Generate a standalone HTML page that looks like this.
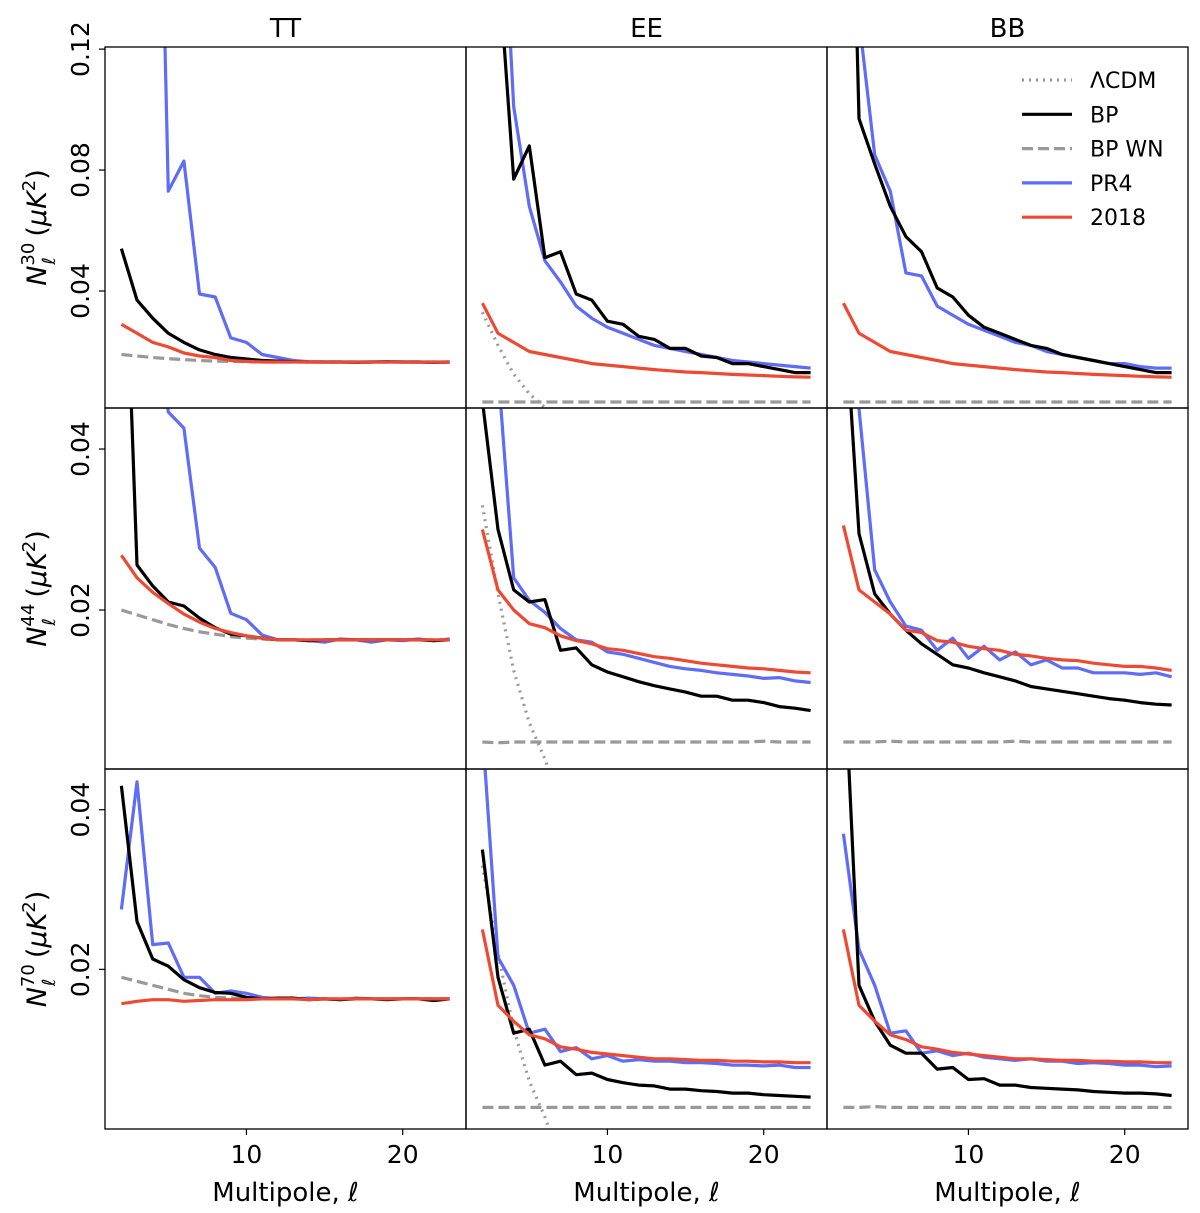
<!DOCTYPE html>
<html><head><meta charset="utf-8"><style>
html,body{margin:0;padding:0;background:#fff;}
svg{display:block;font-family:"DejaVu Sans","Liberation Sans",sans-serif;}
</style></head><body>
<svg id="chart" width="1200" height="1213" viewBox="0 0 1200 1213" xmlns="http://www.w3.org/2000/svg"></svg>
<script>
const ells = [2,3,4,5,6,7,8,9,10,11,12,13,14,15,16,17,18,19,20,21,22,23];
const spectra = ["TT","EE","BB"];
const freqs = ["30","44","70"];
const yTicksRow = [[0.04,0.08,0.12],[0.02,0.04],[0.02,0.04]];
const yTickLabelsRow = [["0.04","0.08","0.12"],["0.02","0.04"],["0.02","0.04"]];
const xTicks = [10,20];
const xTickLabels = ["10","20"];
const legendLabels = ["ΛCDM","BP","BP WN","PR4","2018"];

const lcdm_TT = [900,800,700,650,600,580,560,540,520,500,480,460,440,420,400,380,360,340,320,300,280,260];
const lcdm_EE = [0.033,0.022,0.0125,0.006,0.0015,-0.004,-0.01,-0.01,-0.01,-0.01,-0.01,-0.01,-0.01,-0.01,-0.01,-0.01,-0.01,-0.01,-0.01,-0.01,-0.01,-0.01];
const lcdm_BB = [-0.01,-0.01,-0.01,-0.01,-0.01,-0.01,-0.01,-0.01,-0.01,-0.01,-0.01,-0.01,-0.01,-0.01,-0.01,-0.01,-0.01,-0.01,-0.01,-0.01,-0.01,-0.01];

const bp30_TT = [0.054,0.037,0.031,0.026,0.023,0.0205,0.019,0.018,0.0175,0.017,0.0168,0.0166,0.0165,0.0165,0.0165,0.0164,0.0165,0.0166,0.0165,0.0165,0.0164,0.0165];
const wn30_TT = [0.019,0.0185,0.018,0.0176,0.0173,0.017,0.0168,0.0167,0.0166,0.0165,0.0165,0.0165,0.0165,0.0165,0.0165,0.0165,0.0165,0.0165,0.0165,0.0165,0.0165,0.0165];
const pr430_TT = [0.5,0.4,0.3,0.073,0.083,0.039,0.038,0.0245,0.023,0.019,0.018,0.017,0.0166,0.0165,0.0165,0.0165,0.0165,0.0165,0.0165,0.0165,0.0164,0.0165];
const r30_TT = [0.029,0.026,0.023,0.0215,0.0195,0.0185,0.018,0.017,0.0167,0.0165,0.0165,0.0165,0.0165,0.0165,0.0165,0.0165,0.0165,0.0165,0.0165,0.0165,0.0165,0.0165];

const bp30_EE = [0.3,0.15,0.077,0.088,0.051,0.053,0.039,0.037,0.030,0.029,0.025,0.024,0.021,0.021,0.0185,0.018,0.016,0.016,0.015,0.014,0.013,0.013];
const wn30_EE = [0.0033,0.0033,0.0033,0.0033,0.0033,0.0033,0.0033,0.0033,0.0033,0.0033,0.0033,0.0033,0.0033,0.0033,0.0033,0.0033,0.0033,0.0033,0.0033,0.0033,0.0033,0.0033];
const pr430_EE = [0.4,0.2,0.101,0.068,0.050,0.043,0.035,0.031,0.028,0.026,0.024,0.022,0.021,0.020,0.019,0.018,0.017,0.0165,0.016,0.0155,0.015,0.0145];
const r30_EE = [0.036,0.026,0.023,0.020,0.019,0.018,0.017,0.016,0.0155,0.015,0.0145,0.014,0.0136,0.0132,0.013,0.0127,0.0124,0.0122,0.012,0.0118,0.0116,0.0115];

const bp30_BB = [0.3,0.097,0.082,0.068,0.058,0.053,0.041,0.038,0.032,0.028,0.026,0.024,0.022,0.021,0.019,0.018,0.017,0.016,0.015,0.014,0.013,0.013];
const wn30_BB = [0.0033,0.0033,0.0033,0.0033,0.0033,0.0033,0.0033,0.0033,0.0033,0.0033,0.0033,0.0033,0.0033,0.0033,0.0033,0.0033,0.0033,0.0033,0.0033,0.0033,0.0033,0.0033];
const pr430_BB = [0.3,0.13,0.085,0.073,0.046,0.045,0.035,0.032,0.029,0.027,0.025,0.023,0.022,0.020,0.019,0.018,0.017,0.016,0.016,0.015,0.0145,0.0145];
const r30_BB = [0.036,0.026,0.023,0.020,0.019,0.018,0.017,0.016,0.0155,0.015,0.0145,0.014,0.0136,0.0132,0.013,0.0127,0.0124,0.0122,0.012,0.0118,0.0116,0.0115];

const bp44_TT = [0.08,0.0256,0.023,0.021,0.0205,0.019,0.0178,0.017,0.0168,0.0165,0.0163,0.0163,0.0162,0.0163,0.0163,0.0163,0.0163,0.0163,0.0163,0.0163,0.0162,0.0163];
const wn44_TT = [0.020,0.0194,0.0188,0.0182,0.0177,0.0173,0.017,0.0167,0.0165,0.0164,0.0163,0.0163,0.0163,0.0163,0.0163,0.0163,0.0163,0.0163,0.0163,0.0163,0.0163,0.0163];
const pr444_TT = [0.2,0.1,0.06,0.0446,0.0426,0.0277,0.0253,0.0196,0.0188,0.0169,0.0163,0.0163,0.0162,0.016,0.0164,0.0163,0.016,0.0163,0.0162,0.0164,0.0162,0.0164];
const r44_TT = [0.0268,0.024,0.0222,0.0208,0.0195,0.0185,0.0177,0.0172,0.0168,0.0165,0.0163,0.0163,0.0163,0.0163,0.0163,0.0163,0.0163,0.0163,0.0163,0.0163,0.0163,0.0163];

const bp44_EE = [0.046,0.030,0.0225,0.021,0.0213,0.015,0.0153,0.0132,0.0123,0.0117,0.0111,0.0106,0.0102,0.0098,0.0093,0.0093,0.0088,0.0088,0.0085,0.008,0.0078,0.0075];
const wn44_EE = [0.0036,0.0035,0.0036,0.0036,0.0036,0.0036,0.0036,0.0036,0.0036,0.0036,0.0036,0.0036,0.0036,0.0036,0.0036,0.0036,0.0036,0.0036,0.0037,0.0036,0.0036,0.0036];
const pr444_EE = [0.1,0.05,0.024,0.0212,0.0197,0.0177,0.0163,0.016,0.0148,0.0145,0.014,0.0135,0.013,0.0127,0.0125,0.0122,0.012,0.0118,0.0115,0.0116,0.0112,0.011];
const r44_EE = [0.030,0.0225,0.020,0.0183,0.0178,0.0168,0.0162,0.0158,0.0152,0.015,0.0146,0.0142,0.014,0.0137,0.0134,0.0132,0.013,0.0128,0.0127,0.0125,0.0123,0.0122];

const bp44_BB = [0.06,0.0295,0.022,0.0195,0.0175,0.0158,0.0145,0.0132,0.0128,0.0122,0.0117,0.0112,0.0105,0.0102,0.0099,0.0096,0.0093,0.009,0.0088,0.0085,0.0083,0.0082];
const wn44_BB = [0.0036,0.0036,0.0036,0.0037,0.0036,0.0036,0.0036,0.0036,0.0036,0.0036,0.0036,0.0037,0.0036,0.0036,0.0036,0.0036,0.0036,0.0036,0.0036,0.0036,0.0036,0.0036];
const pr444_BB = [0.08,0.045,0.025,0.021,0.018,0.0175,0.015,0.0165,0.014,0.0155,0.0138,0.0148,0.0132,0.0138,0.0128,0.0128,0.0122,0.0122,0.0122,0.012,0.0122,0.0117];
const r44_BB = [0.0305,0.0225,0.021,0.0195,0.0175,0.0172,0.0162,0.016,0.0155,0.0152,0.015,0.0145,0.0143,0.014,0.0138,0.0137,0.0134,0.0132,0.013,0.013,0.0128,0.0125];

const bp70_TT = [0.043,0.026,0.0213,0.0204,0.0187,0.0177,0.0171,0.017,0.0165,0.0163,0.0164,0.0164,0.0162,0.0163,0.0162,0.0163,0.0163,0.0162,0.0163,0.0163,0.0161,0.0163];
const wn70_TT = [0.019,0.0185,0.018,0.0175,0.017,0.0167,0.0165,0.0164,0.0163,0.0163,0.0163,0.0163,0.0163,0.0163,0.0163,0.0163,0.0163,0.0163,0.0163,0.0163,0.0163,0.0163];
const pr470_TT = [0.0275,0.0435,0.0231,0.0233,0.019,0.019,0.017,0.0173,0.017,0.0165,0.0163,0.0163,0.0164,0.0163,0.0162,0.0164,0.0163,0.0163,0.0163,0.0163,0.0163,0.0163];
const r70_TT = [0.0157,0.016,0.0162,0.0162,0.016,0.0161,0.0162,0.0162,0.0162,0.0163,0.0163,0.0163,0.0162,0.0163,0.0163,0.0163,0.0163,0.0163,0.0163,0.0163,0.0163,0.0163];

const bp70_EE = [0.035,0.019,0.012,0.0125,0.008,0.0085,0.0068,0.007,0.0062,0.0058,0.0055,0.0054,0.005,0.005,0.0048,0.0047,0.0045,0.0045,0.0043,0.0042,0.0041,0.004];
const wn70_EE = [0.0027,0.0027,0.0027,0.0027,0.0027,0.0027,0.0027,0.0027,0.0027,0.0027,0.0027,0.0027,0.0027,0.0027,0.0027,0.0027,0.0027,0.0027,0.0027,0.0027,0.0027,0.0027];
const pr470_EE = [0.05,0.0215,0.018,0.012,0.0125,0.0097,0.0102,0.0088,0.0092,0.0085,0.0087,0.0085,0.0085,0.0083,0.0083,0.0082,0.008,0.008,0.0079,0.008,0.0077,0.0077];
const r70_EE = [0.025,0.0155,0.0135,0.0118,0.0113,0.0103,0.01,0.0096,0.0094,0.0092,0.009,0.0088,0.0088,0.0087,0.0086,0.0086,0.0085,0.0085,0.0084,0.0084,0.0083,0.0083];

const bp70_BB = [0.06,0.018,0.0135,0.0105,0.0095,0.0095,0.0075,0.0077,0.0062,0.0063,0.0055,0.0055,0.0052,0.0051,0.005,0.0049,0.0047,0.0046,0.0045,0.0045,0.0044,0.0042];
const wn70_BB = [0.0027,0.0027,0.0028,0.0027,0.0027,0.0027,0.0027,0.0027,0.0027,0.0027,0.0027,0.0027,0.0027,0.0027,0.0027,0.0027,0.0027,0.0027,0.0027,0.0027,0.0027,0.0027];
const pr470_BB = [0.037,0.0225,0.018,0.012,0.0123,0.0095,0.0098,0.0092,0.0095,0.009,0.0088,0.0086,0.0088,0.0085,0.0085,0.0082,0.0083,0.0082,0.008,0.008,0.0078,0.0079];
const r70_BB = [0.025,0.0155,0.0135,0.0118,0.0112,0.0103,0.01,0.0096,0.0094,0.0092,0.009,0.0088,0.0088,0.0087,0.0086,0.0086,0.0085,0.0085,0.0084,0.0084,0.0083,0.0083];

const NS = "http://www.w3.org/2000/svg";
const svg = document.getElementById("chart");
function mk(tag, attrs, parent){
  const e = document.createElementNS(NS, tag);
  for (const k in attrs) e.setAttribute(k, attrs[k]);
  (parent||svg).appendChild(e);
  return e;
}
const colX = [105,466,827,1188];
const rowY = [47,408,769,1129];
const xlim = [0.95,24.05];
const ylims = [[0.0013,0.1207],[0.00025,0.0451],[0.0,0.0451]];

const dataGrid = [
  [[lcdm_TT,bp30_TT,wn30_TT,pr430_TT,r30_TT],[lcdm_EE,bp30_EE,wn30_EE,pr430_EE,r30_EE],[lcdm_BB,bp30_BB,wn30_BB,pr430_BB,r30_BB]],
  [[lcdm_TT,bp44_TT,wn44_TT,pr444_TT,r44_TT],[lcdm_EE,bp44_EE,wn44_EE,pr444_EE,r44_EE],[lcdm_BB,bp44_BB,wn44_BB,pr444_BB,r44_BB]],
  [[lcdm_TT,bp70_TT,wn70_TT,pr470_TT,r70_TT],[lcdm_EE,bp70_EE,wn70_EE,pr470_EE,r70_EE],[lcdm_BB,bp70_BB,wn70_BB,pr470_BB,r70_BB]]
];
const styles = [
  {stroke:"#999999",dash:"2,5",w:3.2,name:"lcdm"},
  {stroke:"#000000",dash:"",w:3.2,name:"bp"},
  {stroke:"#999999",dash:"11,5",w:3.2,name:"bp-wn"},
  {stroke:"#5f6cf7",dash:"",w:3.2,name:"pr4"},
  {stroke:"#ee4a33",dash:"",w:3.2,name:"2018"}
];
const drawOrder = [0,2,3,1,4];

const defs = mk("defs",{});
for (let r=0;r<3;r++){
  for (let c=0;c<3;c++){
    const x0=colX[c], x1=colX[c+1], y0=rowY[r], y1=rowY[r+1];
    const xs = l => x0 + (l-xlim[0])/(xlim[1]-xlim[0])*(x1-x0);
    const ys = v => y1 - (v-ylims[r][0])/(ylims[r][1]-ylims[r][0])*(y1-y0);
    const cid = "clip"+r+c;
    const cp = mk("clipPath",{id:cid},defs);
    mk("rect",{x:x0,y:y0,width:x1-x0,height:y1-y0},cp);
    const g = mk("g",{"clip-path":"url(#"+cid+")"});
    
    
    for (const si of drawOrder){
      const st = styles[si];
      const arr = dataGrid[r][c][si];
      const pts = ells.map((l,i)=>xs(l).toFixed(1)+","+ys(Math.min(arr[i],1)).toFixed(1)).join(" ");
      const pl = mk("polyline",{points:pts,fill:"none",stroke:st.stroke,"stroke-width":st.w,"stroke-dasharray":st.dash,"stroke-linejoin":"round"},g);
      
      
    }
    const fr = mk("rect",{x:x0,y:y0,width:x1-x0,height:y1-y0,fill:"none",stroke:"#000","stroke-width":1.3});
    
    
    if (r===2){
      xTicks.forEach((t,i)=>{
        mk("line",{x1:xs(t),x2:xs(t),y1:y1,y2:y1+6,stroke:"#000","stroke-width":1.2});
        const tx = mk("text",{x:xs(t),y:y1+34,"font-size":25,"text-anchor":"middle"});
        tx.textContent = xTickLabels[i];
        
        
      });
      const xl = mk("text",{x:(x0+x1)/2,y:1201,"font-size":26,"text-anchor":"middle"});
      xl.textContent = "Multipole, ℓ";
      
      
    }
    if (r===0){
      const tt = mk("text",{x:(x0+x1)/2,y:37,"font-size":26,"text-anchor":"middle"});
      tt.textContent = spectra[c];
      
      
    }
    if (c===0){
      yTicksRow[r].forEach((t,i)=>{
        const yy = ys(t);
        mk("line",{x1:x0-6,x2:x0,y1:yy,y2:yy,stroke:"#000","stroke-width":1.2});
        const tx = mk("text",{x:0,y:0,"font-size":25,"text-anchor":"middle",transform:"translate(89,"+yy+") rotate(-90)"});
        tx.textContent = yTickLabelsRow[r][i];
        
        
      });
      const yc = (y0+y1)/2;
      const yl = mk("text",{x:0,y:0,"font-size":27,"text-anchor":"middle",transform:"translate(46,"+yc+") rotate(-90)"});
      yl.innerHTML = '<tspan font-style="italic">N</tspan><tspan font-size="18" dy="-12">'+freqs[r]+'</tspan><tspan font-size="18" dx="-22" dy="21" font-style="italic">ℓ</tspan><tspan dy="-9" dx="12"> (</tspan><tspan font-style="italic">μK</tspan><tspan font-size="18" dy="-11">2</tspan><tspan dy="11">)</tspan>';
      
      
    }
  }
}
const lg = mk("g",{});


legendLabels.forEach((lab,i)=>{
  const yy = 80 + i*34.3;
  const st = styles[i];
  mk("line",{x1:1022,x2:1072,y1:yy,y2:yy,stroke:st.stroke,"stroke-width":st.w,"stroke-dasharray":st.dash},lg);
  const t = mk("text",{x:1090,y:yy+8,"font-size":22},lg);
  t.textContent = lab;
  
  
});
</script>
</body></html>
